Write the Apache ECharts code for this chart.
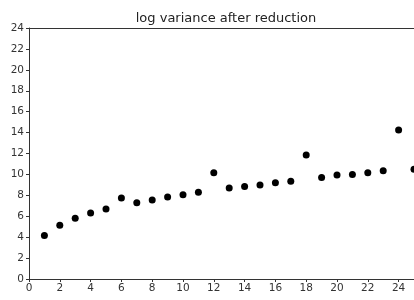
<!DOCTYPE html>
<html>
<head>
<meta charset="utf-8">
<script src="https://cdn.jsdelivr.net/npm/echarts@6/dist/echarts.min.js"></script>
<style>
html, body { margin: 0; padding: 0; background: #fff; }
#chart { width: 414px; height: 300px; }
</style>
</head>
<body>
<div id="chart"></div>
<script>
// values
var xs = [1, 2, 3, 4, 5, 6, 7, 8, 9, 10, 11, 12, 13, 14, 15, 16, 17, 18, 19, 20, 21, 22, 23, 24, 25];
var logVar = [4.15, 5.15, 5.8, 6.3, 6.7, 7.75, 7.3, 7.55, 7.85, 8.05, 8.3, 10.15, 8.7, 8.85, 9.0, 9.2, 9.35, 11.85, 9.7, 9.95, 10.0, 10.15, 10.35, 14.25, 10.5];

var points = xs.map(function (x, i) { return [x, logVar[i]]; });

var labelStyle = {
	color: '#333',
	fontSize: 10.5,
	fontFamily: 'DejaVu Sans'
};

var chart = echarts.init(document.getElementById('chart'));
chart.setOption({
	animation: false,
	title: {
		text: 'log variance after reduction',
		left: 221,
		top: 7,
		textAlign: 'center',
		textStyle: { color: '#222', fontSize: 13, fontWeight: 'normal', fontFamily: 'DejaVu Sans' }
	},
	grid: { left: 29, top: 28, right: 0, bottom: 21 },
	xAxis: [
		{
			type: 'value',
			min: 0,
			max: 25,
			interval: 2,
			splitLine: { show: false },
			axisLine: { lineStyle: { color: '#333', width: 1 } },
			axisTick: { length: 3, lineStyle: { color: '#333' } },
			axisLabel: Object.assign({ margin: 4, showMaxLabel: false }, labelStyle)
		},
		{
			// top spine
			type: 'value',
			position: 'top',
			min: 0,
			max: 25,
			splitLine: { show: false },
			axisLine: { lineStyle: { color: '#333', width: 1 } },
			axisTick: { show: false },
			axisLabel: { show: false }
		}
	],
	yAxis: {
		type: 'value',
		min: 0,
		max: 24,
		interval: 2,
		splitLine: { show: false },
		axisLine: { show: true, lineStyle: { color: '#333', width: 1 } },
		axisTick: { show: true, length: 3, lineStyle: { color: '#333' } },
		axisLabel: Object.assign({ margin: 5 }, labelStyle)
	},
	series: [
		{
			type: 'scatter',
			data: points,
			symbolSize: 7,
			itemStyle: { color: '#000', opacity: 1 },
			clip: true
		}
	]
});
</script>
</body>
</html>
